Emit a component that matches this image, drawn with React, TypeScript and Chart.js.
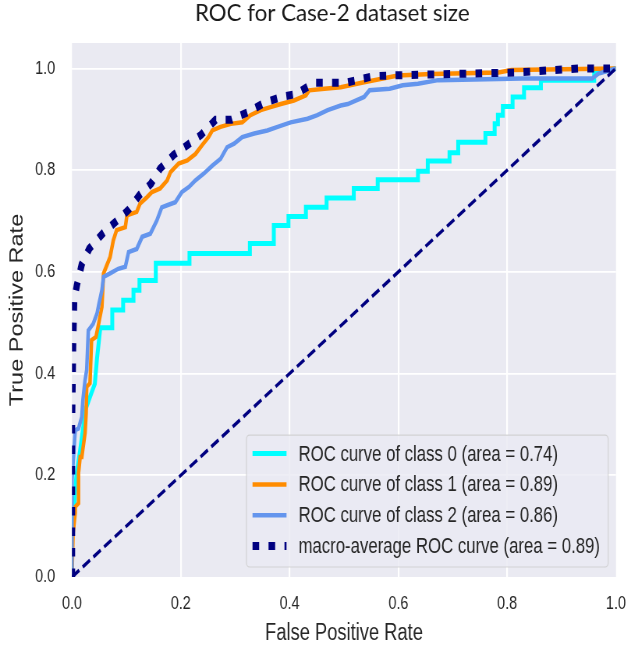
import React, { useEffect, useRef } from "react";
import { Chart, registerables } from "chart.js";

Chart.register(...registerables);

// ---------------- data ----------------
const TITLE = "ROC for Case-2 dataset size";
const X_LABEL = "False Positive Rate";
const Y_LABEL = "True Positive Rate";
const AXIS_TICKS = [0, 0.2, 0.4, 0.6, 0.8, 1.0];

const CLASS_NAMES = ["class 0", "class 1", "class 2"];
const CLASS_AUC = [0.74, 0.89, 0.86];
const MACRO_AUC = 0.89;

const CLASS0_FPR = [0, 0, 0.004, 0.008, 0.015, 0.025, 0.033, 0.042, 0.046, 0.052, 0.074, 0.074, 0.094, 0.094, 0.113, 0.113, 0.124, 0.124, 0.154, 0.154, 0.216, 0.216, 0.327, 0.327, 0.371, 0.371, 0.398, 0.398, 0.430, 0.430, 0.468, 0.468, 0.518, 0.518, 0.562, 0.562, 0.636, 0.636, 0.654, 0.654, 0.694, 0.694, 0.710, 0.710, 0.760, 0.760, 0.777, 0.777, 0.783, 0.783, 0.792, 0.792, 0.810, 0.810, 0.831, 0.831, 0.862, 0.862, 0.960, 0.960, 1];
const CLASS0_TPR = [0, 0.1, 0.14, 0.2, 0.25, 0.33, 0.354, 0.38, 0.43, 0.49, 0.49, 0.525, 0.525, 0.544, 0.544, 0.564, 0.564, 0.583, 0.583, 0.617, 0.617, 0.636, 0.636, 0.656, 0.656, 0.691, 0.691, 0.709, 0.709, 0.727, 0.727, 0.745, 0.745, 0.764, 0.764, 0.781, 0.781, 0.798, 0.798, 0.818, 0.818, 0.834, 0.834, 0.855, 0.855, 0.872, 0.872, 0.891, 0.891, 0.908, 0.908, 0.925, 0.925, 0.944, 0.944, 0.962, 0.962, 0.977, 0.977, 0.99, 1];

const CLASS1_FPR = [0, 0.002, 0.006, 0.006, 0.012, 0.012, 0.015, 0.018, 0.024, 0.026, 0.027, 0.033, 0.036, 0.044, 0.049, 0.055, 0.058, 0.070, 0.076, 0.082, 0.098, 0.101, 0.119, 0.125, 0.138, 0.147, 0.162, 0.175, 0.181, 0.196, 0.212, 0.227, 0.239, 0.251, 0.258, 0.273, 0.292, 0.313, 0.328, 0.347, 0.365, 0.384, 0.408, 0.430, 0.436, 0.464, 0.494, 0.537, 0.599, 0.661, 0.784, 0.808, 1];
const CLASS1_TPR = [0, 0.086, 0.126, 0.138, 0.145, 0.204, 0.236, 0.236, 0.283, 0.322, 0.374, 0.381, 0.466, 0.472, 0.498, 0.531, 0.597, 0.629, 0.662, 0.682, 0.688, 0.711, 0.718, 0.734, 0.747, 0.757, 0.764, 0.780, 0.796, 0.813, 0.819, 0.832, 0.849, 0.865, 0.878, 0.885, 0.891, 0.894, 0.908, 0.918, 0.924, 0.930, 0.937, 0.947, 0.957, 0.960, 0.963, 0.973, 0.986, 0.989, 0.992, 0.997, 1];

const CLASS2_FPR = [0, 0, 0.006, 0.012, 0.018, 0.020, 0.024, 0.027, 0.030, 0.039, 0.046, 0.049, 0.055, 0.058, 0.070, 0.085, 0.098, 0.104, 0.119, 0.129, 0.144, 0.156, 0.165, 0.175, 0.190, 0.202, 0.215, 0.227, 0.242, 0.258, 0.273, 0.285, 0.298, 0.313, 0.335, 0.359, 0.378, 0.402, 0.433, 0.451, 0.470, 0.494, 0.507, 0.537, 0.547, 0.584, 0.608, 0.636, 0.673, 0.827, 0.956, 0.968, 0.987, 1];
const CLASS2_TPR = [0, 0.19, 0.289, 0.292, 0.315, 0.348, 0.387, 0.407, 0.485, 0.498, 0.518, 0.534, 0.564, 0.590, 0.597, 0.606, 0.610, 0.639, 0.645, 0.669, 0.675, 0.701, 0.727, 0.731, 0.737, 0.757, 0.767, 0.780, 0.793, 0.809, 0.822, 0.845, 0.852, 0.865, 0.872, 0.878, 0.885, 0.894, 0.901, 0.908, 0.918, 0.927, 0.930, 0.944, 0.957, 0.960, 0.967, 0.970, 0.977, 0.980, 0.980, 0.990, 0.996, 1];

const MACRO_FPR = [0, 0, 0.002, 0.004, 0.009, 0.018, 0.032, 0.058, 0.084, 0.104, 0.125, 0.145, 0.162, 0.187, 0.213, 0.237, 0.264, 0.293, 0.327, 0.353, 0.385, 0.413, 0.445, 0.504, 0.555, 0.613, 0.817, 0.934, 1];
const MACRO_TPR = [0, 0.3, 0.45, 0.544, 0.574, 0.615, 0.646, 0.677, 0.702, 0.722, 0.752, 0.773, 0.803, 0.830, 0.850, 0.869, 0.899, 0.899, 0.916, 0.932, 0.944, 0.950, 0.972, 0.972, 0.985, 0.987, 0.992, 1.0, 1];

const CHANCE_FPR = [0, 1];
const CHANCE_TPR = [0, 1];

// ---------------- styling ----------------
const CLASS_COLORS = ["#00FFFF", "#FF8C00", "#6495ED"];
const NAVY = "#000080";
const PLOT_BG = "#EAEAF2";
const TEXT = "#262626";
const SANS = '"Liberation Sans", Arial, sans-serif';

const VIEW_W = 631;
const VIEW_H = 646;
const CANVAS_W = 809; // drawn wide, shown narrow (the reference is horizontally squeezed)
const SQUEEZE = VIEW_W / CANVAS_W;

const toPoints = (xs: number[], ys: number[]) => xs.map((x, i) => ({ x, y: ys[i] }));

const bgPlugin = {
  id: "plotBg",
  beforeDraw(chart: any) {
    const { ctx, chartArea } = chart;
    ctx.save();
    ctx.fillStyle = "#ffffff";
    ctx.fillRect(0, 0, chart.width, chart.height);
    ctx.fillStyle = PLOT_BG;
    ctx.fillRect(chartArea.left, chartArea.top, chartArea.right - chartArea.left, chartArea.bottom - chartArea.top);
    ctx.restore();
  },
};

const titlePlugin = {
  id: "figTitle",
  afterDraw(chart: any) {
    const { ctx, chartArea } = chart;
    const cx = (chartArea.left + chartArea.right) / 2 - 15;
    ctx.save();
    ctx.translate(cx, 21);
    ctx.scale(1 / SQUEEZE, 1);
    ctx.font = '22.3px Lato, "Open Sans", sans-serif';
    ctx.fillStyle = "#1a1a1a";
    ctx.textAlign = "center";
    ctx.textBaseline = "alphabetic";
    ctx.fillText(TITLE, 0, 0);
    ctx.restore();
  },
};

const legendPlugin = {
  id: "rocLegend",
  afterDatasetsDraw(chart: any) {
    const { ctx, chartArea } = chart;
    const entries = chart.data.datasets.filter((d: any) => d.inLegend);
    ctx.save();
    ctx.font = `21.5px ${SANS}`;
    const maxW = Math.max(...entries.map((d: any) => ctx.measureText(d.label).width));
    const padL = 7.7, handleLen = 43.6, gap = 15.3, padR = 10.5;
    const rowH = 30.8, firstRow = 18.5, padB = 21;
    const right = chartArea.right - 10;
    const bottom = chartArea.bottom - 10;
    const height = firstRow + rowH * (entries.length - 1) + padB;
    const top = bottom - height;
    const left = right - padR - maxW - gap - handleLen - padL;

    ctx.beginPath();
    if (ctx.roundRect) ctx.roundRect(left, top, right - left, height, 4);
    else ctx.rect(left, top, right - left, height);
    ctx.fillStyle = "rgba(234,234,242,0.8)";
    ctx.fill();
    ctx.lineWidth = 1.2;
    ctx.strokeStyle = "rgba(204,204,204,0.8)";
    ctx.stroke();

    entries.forEach((d: any, i: number) => {
      const y = top + firstRow + i * rowH;
      const x0 = left + padL;
      const x1 = x0 + handleLen;
      ctx.save();
      ctx.beginPath();
      ctx.setLineDash(d.borderDash || []);
      ctx.lineCap = "butt";
      ctx.lineWidth = d.borderWidth;
      ctx.strokeStyle = d.borderColor;
      ctx.moveTo(x0, y);
      ctx.lineTo(x1, y);
      ctx.stroke();
      ctx.restore();
      ctx.fillStyle = TEXT;
      ctx.textAlign = "left";
      ctx.textBaseline = "middle";
      ctx.fillText(d.label, x1 + gap, y + 1);
    });
    ctx.restore();
  },
};

const edgeAware = (edges: number[]) => (c: any) =>
  c.tick && edges.some((e) => Math.abs(c.tick.value - e) < 1e-9) ? "rgba(0,0,0,0)" : "#ffffff";

export default function App() {
  const ref = useRef<HTMLCanvasElement | null>(null);

  useEffect(() => {
    const canvas = ref.current;
    if (!canvas) return;
    const classSets = [
      [CLASS0_FPR, CLASS0_TPR],
      [CLASS1_FPR, CLASS1_TPR],
      [CLASS2_FPR, CLASS2_TPR],
    ];
    const drawOrder = [4, 3, 2];
    const datasets: any[] = classSets.map(([fpr, tpr], i) => ({
      label: `ROC curve of ${CLASS_NAMES[i]} (area = ${CLASS_AUC[i].toFixed(2)})`,
      data: toPoints(fpr, tpr),
      borderColor: CLASS_COLORS[i],
      borderWidth: i === 0 ? 5 : 4.5,
      pointRadius: 0,
      tension: 0,
      fill: false,
      clip: 0,
      order: drawOrder[i],
      inLegend: true,
    }));
    datasets.push({
      label: `macro-average ROC curve (area = ${MACRO_AUC.toFixed(2)})`,
      data: toPoints(MACRO_FPR, MACRO_TPR),
      borderColor: NAVY,
      borderWidth: 8,
      borderDash: [8.5, 12],
      borderCapStyle: "butt",
      pointRadius: 0,
      tension: 0,
      fill: false,
      clip: 0,
      order: 1,
      inLegend: true,
    });
    datasets.push({
      label: "chance",
      data: toPoints(CHANCE_FPR, CHANCE_TPR),
      borderColor: NAVY,
      borderWidth: 3.5,
      borderDash: [11.5, 5.5],
      borderCapStyle: "butt",
      pointRadius: 0,
      fill: false,
      clip: 0,
      order: 0,
      inLegend: false,
    });

    const chart = new Chart(canvas, {
      type: "line",
      data: { datasets },
      options: {
        responsive: false,
        devicePixelRatio: 1,
        animation: false,
        events: [],
        layout: { padding: { top: 43, right: 19.3, left: 0, bottom: 0 } },
        plugins: { legend: { display: false }, title: { display: false }, tooltip: { enabled: false } },
        scales: {
          x: {
            type: "linear",
            min: 0,
            max: 1,
            afterBuildTicks: (s: any) => {
              s.ticks = AXIS_TICKS.map((v) => ({ value: v }));
            },
            afterFit: (s: any) => {
              s.height = 69;
              s.paddingLeft = 0;
              s.paddingRight = 0;
            },
            border: { display: false },
            grid: { color: edgeAware([0, 1]), lineWidth: 2.2, drawTicks: false },
            ticks: {
              padding: 16,
              color: TEXT,
              font: { family: SANS, size: 18.5 },
              maxRotation: 0,
              callback: (v: any) => Number(v).toFixed(1),
            },
            title: {
              display: true,
              text: X_LABEL,
              color: TEXT,
              font: { family: SANS, size: 23.5, lineHeight: 1 },
              padding: { top: 0, bottom: 0.75 },
            },
          },
          y: {
            type: "linear",
            min: 0,
            max: 1.05,
            afterBuildTicks: (s: any) => {
              s.ticks = AXIS_TICKS.map((v) => ({ value: v }));
            },
            afterFit: (s: any) => {
              s.width = 92.3;
              s.paddingTop = 0;
              s.paddingBottom = 0;
            },
            border: { display: false },
            grid: { color: edgeAware([0]), lineWidth: 1.8, drawTicks: false },
            ticks: {
              padding: 21.5,
              color: TEXT,
              font: { family: SANS, size: 18.5 },
              callback: (v: any) => Number(v).toFixed(1),
            },
            title: {
              display: true,
              text: Y_LABEL,
              color: TEXT,
              font: { family: SANS, size: 23.5, lineHeight: 1.2 },
              padding: { top: 8, bottom: 0 },
            },
          },
        },
      },
      plugins: [bgPlugin, legendPlugin, titlePlugin],
    } as any);

    return () => chart.destroy();
  }, []);

  return (
    <div style={{ position: "fixed", left: 0, top: 0, width: VIEW_W, height: VIEW_H, background: "#ffffff" }}>
      <canvas
        ref={ref}
        width={CANVAS_W}
        height={VIEW_H}
        style={{ display: "block", width: `${VIEW_W}px`, height: `${VIEW_H}px` }}
      />
    </div>
  );
}
